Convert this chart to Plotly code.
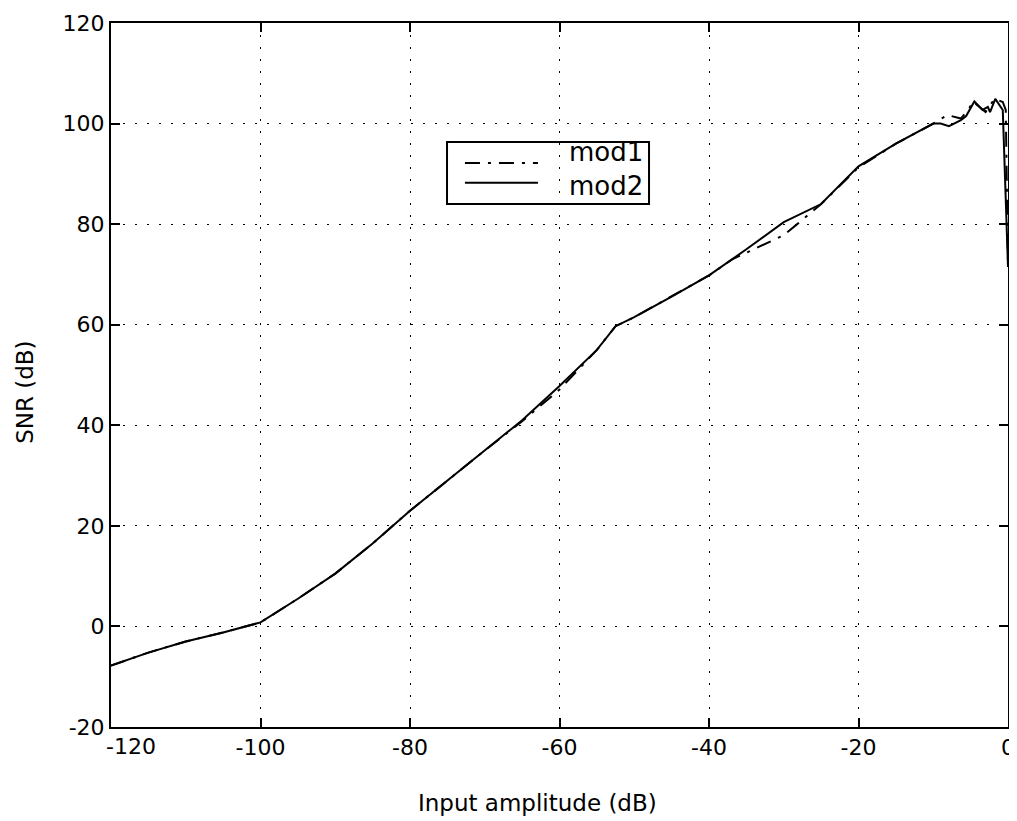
import plotly.graph_objects as go

x_mod2 = [-120, -115, -110, -105, -100, -95, -90, -85, -80, -75, -70, -65, -60, -55, -52.5,
          -50, -45, -40, -35, -30, -25, -20, -15, -10, -9, -7.9, -6.3, -5.6, -4.5, -3.4,
          -2.7, -2.4, -1.7, -0.7, 0]
y_mod2 = [-7.8, -5.2, -3.0, -1.2, 0.8, 5.5, 10.5, 16.5, 23.0, 29.0, 35.0, 41.0, 47.8, 55.0, 59.7,
          61.5, 65.6, 69.8, 75.0, 80.4, 84.0, 91.5, 96.0, 100.0, 100.0, 99.5, 100.7, 101.5, 104.4, 102.7,
          103.3, 102.3, 104.9, 102.7, 71.5]

x_mod1 = [-120, -115, -110, -105, -100, -95, -90, -85, -80, -75, -70, -65, -60, -55, -52.5,
          -50, -45, -40, -36.9, -33, -30, -28.2, -25, -20, -15, -10, -8.1, -6.3, -5.2, -4.7,
          -4.1, -3.0, -2.5, -1.8, -0.7, -0.3, 0]
y_mod1 = [-7.8, -5.2, -3.0, -1.2, 0.8, 5.5, 10.5, 16.5, 23.0, 29.0, 35.0, 40.8, 47.1, 55.0, 59.7,
          61.5, 65.6, 69.8, 73.0, 75.8, 77.8, 80.0, 84.0, 91.3, 96.0, 100.0, 101.7, 101.0, 103.0, 104.4,
          103.6, 102.3, 103.4, 104.9, 104.3, 102.7, 71.5]

x_ticks = [-120, -100, -80, -60, -40, -20, 0]
y_ticks = [-20, 0, 20, 40, 60, 80, 100, 120]
series_names = ["mod1", "mod2"]
series_dash = ["15px,8px,3px,8px", "solid"]

FONT = "DejaVu Sans, Liberation Sans, Arial, sans-serif"

fig = go.Figure()
fig.add_trace(go.Scatter(x=x_mod1, y=y_mod1, mode="lines", name=series_names[0],
                         line=dict(color="black", width=2, dash=series_dash[0])))
fig.add_trace(go.Scatter(x=x_mod2, y=y_mod2, mode="lines", name=series_names[1],
                         line=dict(color="black", width=2, dash=series_dash[1])))

axis_common = dict(
    showline=True, linecolor="black", linewidth=2, mirror="ticks",
    ticks="inside", ticklen=9, tickwidth=1.5, tickcolor="black",
    showgrid=True, gridcolor="black", gridwidth=1, griddash="2px,10px",
    zeroline=False, automargin=False,
    tickfont=dict(size=22, color="black", family=FONT),
)

# The first x label sits right of its tick (as in the reference), so it is drawn as an annotation
x_ticktext = [""] + [str(v) for v in x_ticks[1:]]
fig.update_xaxes(range=[-120, 0], tickvals=x_ticks, ticktext=x_ticktext, **axis_common)
fig.update_yaxes(range=[-20, 120], tickvals=y_ticks, ticktext=[str(v) for v in y_ticks], **axis_common)
fig.add_annotation(text=str(x_ticks[0]), xref="paper", yref="paper", x=-0.008, y=-0.027,
                   xanchor="left", yanchor="middle", showarrow=False,
                   font=dict(size=22, color="black", family=FONT))

# Axis titles
fig.add_annotation(text="Input amplitude (dB)", xref="paper", yref="paper",
                   x=0.475, y=-0.108, xanchor="center", yanchor="middle", showarrow=False,
                   font=dict(size=23, color="black", family=FONT))
fig.add_annotation(text="SNR (dB)", xref="paper", yref="paper", textangle=-90,
                   x=-0.0959, y=0.476, xanchor="center", yanchor="middle", showarrow=False,
                   font=dict(size=23, color="black", family=FONT))

# Legend box (drawn manually to match the long line samples)
fig.add_shape(type="rect", xref="paper", yref="paper", x0=0.3746, x1=0.5998, y0=0.7429, y1=0.831,
              line=dict(color="black", width=2), fillcolor="rgba(0,0,0,0)")
leg_y = [0.801, 0.773]
for dash, ly in zip(series_dash, leg_y):
    fig.add_shape(type="line", xref="paper", yref="paper", x0=0.3946, x1=0.476, y0=ly, y1=ly,
                  line=dict(color="black", width=2, dash=dash))
fig.add_annotation(text="<br>".join(series_names), xref="paper", yref="paper", x=0.5085, y=0.792,
                   xanchor="left", yanchor="middle", align="left", showarrow=False,
                   font=dict(size=26, color="black", family=FONT))

# The page body adds an 8px offset; compensate so the plot area lands where the reference has it
fig.update_layout(
    width=1009, height=813,
    margin=dict(l=103, r=9, t=15, b=94),
    paper_bgcolor="white", plot_bgcolor="white",
    font=dict(family=FONT, color="black"),
    showlegend=False,
)

fig.write_html("out.html")
